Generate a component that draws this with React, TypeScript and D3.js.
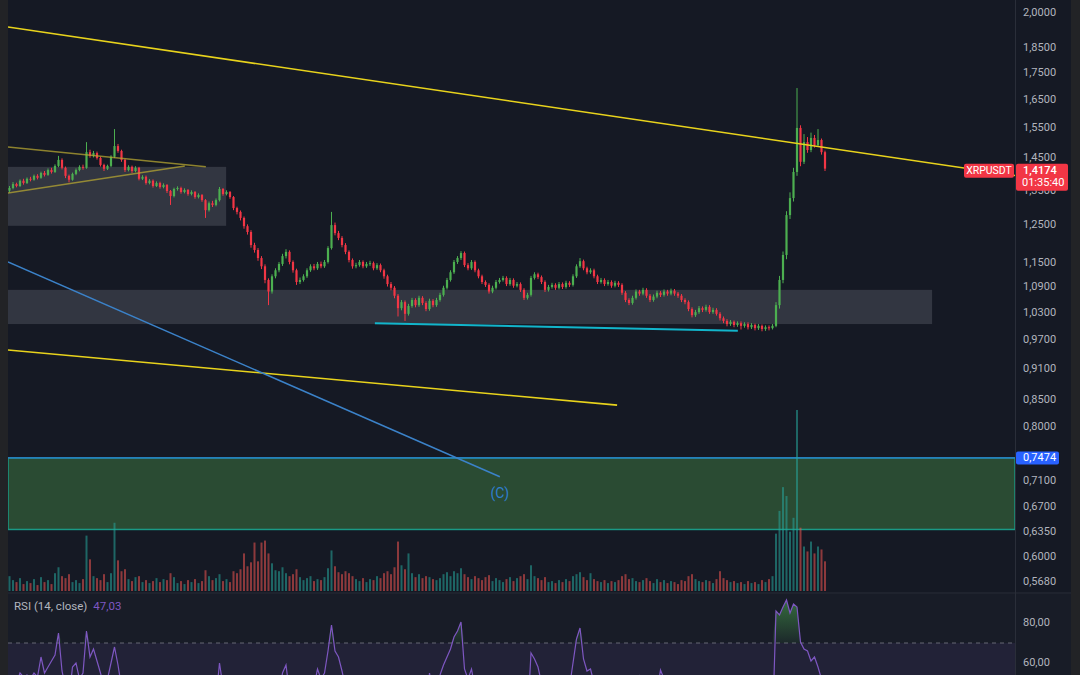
import React from "react";
import * as d3 from "d3";

// ---------- DATA ----------
const firstOpen = 1.35;
const closes = [
  1.358,1.370,1.364,1.380,1.373,1.386,1.383,1.395,1.389,1.404,
  1.398,1.413,1.407,1.426,1.445,1.420,1.395,1.383,1.401,1.413,
  1.423,1.420,1.470,1.458,1.467,1.451,1.429,1.417,1.426,1.455,
  1.490,1.474,1.445,1.413,1.423,1.410,1.420,1.386,1.392,1.373,
  1.380,1.364,1.373,1.361,1.367,1.349,1.334,1.355,1.358,1.346,
  1.352,1.340,1.346,1.331,1.337,1.322,1.293,1.313,1.308,1.322,
  1.355,1.340,1.346,1.331,1.299,1.288,1.271,1.248,1.232,1.197,
  1.184,1.163,1.142,1.108,1.080,1.117,1.132,1.148,1.168,1.179,
  1.153,1.132,1.103,1.108,1.117,1.132,1.142,1.137,1.148,1.142,
  1.153,1.189,1.251,1.229,1.216,1.197,1.179,1.158,1.142,1.145,
  1.153,1.142,1.148,1.150,1.137,1.145,1.132,1.117,1.098,1.089,
  1.070,1.041,1.055,1.028,1.046,1.060,1.048,1.065,1.053,1.039,
  1.058,1.048,1.060,1.072,1.089,1.108,1.127,1.153,1.163,1.176,
  1.145,1.137,1.153,1.132,1.117,1.103,1.096,1.080,1.089,1.103,
  1.108,1.113,1.098,1.108,1.094,1.098,1.084,1.065,1.072,1.113,
  1.122,1.115,1.103,1.084,1.091,1.096,1.089,1.098,1.091,1.101,
  1.096,1.117,1.142,1.155,1.137,1.127,1.132,1.117,1.103,1.108,
  1.098,1.103,1.094,1.101,1.096,1.077,1.060,1.053,1.065,1.080,
  1.075,1.084,1.070,1.060,1.068,1.077,1.072,1.080,1.075,1.082,
  1.075,1.070,1.060,1.055,1.039,1.025,1.032,1.041,1.037,1.044,
  1.032,1.037,1.028,1.018,1.012,1.005,1.010,1.003,1.007,1.001,
  1.005,0.998,1.003,0.996,1.001,0.994,0.998,0.996,1.001,1.048,
  1.108,1.171,1.279,1.328,1.407,1.551,1.439,1.503,1.477,1.517,
  1.493,1.510,1.470,1.4174,
];
const highs = [
  1.364,1.376,1.374,1.384,1.386,1.390,1.392,1.399,1.400,1.408,
  1.410,1.418,1.420,1.431,1.458,1.450,1.424,1.399,1.405,1.418,
  1.428,1.430,1.503,1.478,1.474,1.472,1.455,1.433,1.430,1.460,
  1.547,1.497,1.478,1.449,1.428,1.427,1.425,1.423,1.397,1.396,
  1.385,1.384,1.378,1.377,1.372,1.370,1.352,1.359,1.363,1.362,
  1.357,1.355,1.351,1.349,1.342,1.340,1.325,1.318,1.320,1.327,
  1.361,1.358,1.351,1.349,1.334,1.303,1.292,1.275,1.253,1.237,
  1.203,1.189,1.168,1.147,1.112,1.122,1.137,1.153,1.174,1.186,
  1.183,1.157,1.136,1.114,1.122,1.137,1.147,1.148,1.153,1.154,
  1.158,1.194,1.288,1.258,1.235,1.221,1.202,1.183,1.162,1.151,
  1.158,1.157,1.153,1.156,1.154,1.150,1.149,1.136,1.121,1.103,
  1.093,1.074,1.060,1.059,1.051,1.065,1.064,1.070,1.069,1.057,
  1.063,1.062,1.065,1.077,1.094,1.113,1.132,1.158,1.168,1.181,
  1.180,1.150,1.158,1.157,1.136,1.121,1.107,1.100,1.094,1.108,
  1.113,1.118,1.117,1.113,1.112,1.103,1.102,1.088,1.077,1.118,
  1.127,1.126,1.119,1.107,1.096,1.101,1.100,1.103,1.102,1.106,
  1.105,1.122,1.147,1.163,1.159,1.141,1.137,1.136,1.121,1.113,
  1.112,1.108,1.107,1.106,1.105,1.100,1.081,1.064,1.070,1.085,
  1.084,1.089,1.088,1.074,1.073,1.082,1.081,1.085,1.084,1.087,
  1.086,1.079,1.074,1.064,1.059,1.043,1.037,1.046,1.045,1.049,
  1.048,1.042,1.041,1.032,1.022,1.016,1.014,1.013,1.011,1.011,
  1.009,1.009,1.007,1.006,1.005,1.004,1.002,1.002,1.005,1.055,
  1.118,1.180,1.290,1.345,1.420,1.694,1.560,1.530,1.520,1.535,
  1.527,1.547,1.515,1.475,
];
const lows = [
  1.345,1.354,1.360,1.361,1.368,1.370,1.378,1.380,1.384,1.386,
  1.393,1.395,1.402,1.404,1.422,1.415,1.388,1.375,1.380,1.397,
  1.409,1.414,1.417,1.452,1.453,1.446,1.424,1.410,1.413,1.422,
  1.451,1.468,1.439,1.407,1.409,1.404,1.406,1.381,1.382,1.368,
  1.369,1.359,1.361,1.356,1.357,1.343,1.308,1.330,1.350,1.341,
  1.342,1.335,1.336,1.326,1.327,1.317,1.271,1.289,1.302,1.304,
  1.318,1.335,1.336,1.326,1.293,1.281,1.264,1.241,1.225,1.190,
  1.177,1.156,1.135,1.100,1.048,1.075,1.112,1.127,1.143,1.162,
  1.147,1.126,1.096,1.098,1.104,1.113,1.128,1.132,1.133,1.137,
  1.138,1.149,1.185,1.223,1.210,1.191,1.173,1.152,1.136,1.137,
  1.141,1.137,1.138,1.143,1.132,1.133,1.127,1.111,1.092,1.083,
  1.064,1.022,1.036,1.012,1.024,1.042,1.043,1.044,1.048,1.034,
  1.035,1.043,1.044,1.056,1.068,1.085,1.104,1.123,1.148,1.158,
  1.140,1.132,1.133,1.127,1.112,1.098,1.091,1.075,1.076,1.085,
  1.099,1.104,1.093,1.094,1.089,1.090,1.079,1.060,1.061,1.068,
  1.109,1.110,1.098,1.079,1.080,1.087,1.084,1.085,1.086,1.087,
  1.091,1.092,1.113,1.138,1.132,1.122,1.123,1.112,1.098,1.099,
  1.093,1.094,1.089,1.090,1.091,1.072,1.055,1.048,1.049,1.061,
  1.070,1.071,1.065,1.055,1.056,1.064,1.067,1.068,1.070,1.071,
  1.070,1.065,1.055,1.050,1.034,1.020,1.021,1.028,1.032,1.033,
  1.028,1.028,1.024,1.013,1.007,1.000,1.001,0.998,0.999,0.993,
  0.997,0.993,0.994,0.991,0.992,0.989,0.990,0.991,0.993,0.998,
  1.040,1.100,1.160,1.268,1.318,1.395,1.425,1.432,1.468,1.470,
  1.485,1.488,1.462,1.410,
];
const volumes = [
  30,22,18,26,14,20,16,24,12,28,
  18,22,14,36,48,30,26,34,18,22,
  16,24,112,64,30,26,22,34,18,36,
  138,62,40,44,24,20,28,30,18,22,
  16,20,26,18,24,22,36,28,16,20,
  14,22,18,24,16,20,42,30,22,26,
  34,20,24,18,40,36,44,76,50,58,
  98,60,98,102,76,56,42,40,48,36,
  30,34,44,28,22,26,30,20,24,22,
  28,46,82,50,38,34,40,36,30,24,
  20,26,18,24,22,30,26,36,40,34,
  48,100,52,44,76,36,28,34,26,30,
  28,24,22,26,34,38,30,40,36,46,
  34,28,24,30,26,22,28,32,20,26,
  22,18,24,28,20,26,30,34,24,52,
  30,26,22,28,18,20,16,22,18,24,
  20,30,34,38,28,22,36,24,20,18,
  22,16,20,18,22,30,34,24,26,20,
  18,22,26,20,16,24,18,22,16,20,
  18,14,22,20,30,34,24,20,18,22,
  20,16,24,40,26,22,18,20,16,18,
  14,20,16,18,14,22,18,24,30,116,
  162,210,192,120,148,366,128,90,80,100,
  76,90,84,60,
];
const rsiValues = [
  48,52,50,55,53,54,52,55,53,63,
  55,58,61,64,75,56,48,42,58,60,
  52,55,76,63,67,61,55,48,52,60,
  68,59,48,40,44,40,43,35,38,33,
  36,32,36,33,35,31,28,38,40,35,
  38,34,37,32,35,31,25,36,35,42,
  60,48,50,44,33,30,26,23,21,17,
  16,15,13,11,10,28,36,44,55,59,
  45,38,30,33,38,45,50,48,57,52,
  55,66,79,66,63,56,48,40,36,38,
  42,38,41,42,37,41,35,30,25,23,
  20,16,26,18,30,38,34,42,37,32,
  55,45,50,54,59,63,67,73,76,80.5,
  57,52,57,47,41,36,34,30,35,42,
  44,46,40,54,38,40,35,28,32,65,
  62,58,50,42,45,47,44,48,45,50,
  48,60,72,77.5,62,56,57,50,43,45,
  41,44,40,44,42,34,28,26,34,44,
  54,46,37,33,38,45,56.5,52,49,53,
  48,44,38,35,28,23,30,36,34,40,
  32,36,30,25,22,20,26,22,26,22,
  27,22,27,22,27,21,26,24,28,86,
  84,88,91.5,85,89.5,88,70.5,67,66,61,
  63,58,52,47.03,
];
const priceTicks = [2.0, 1.85, 1.75, 1.65, 1.55, 1.45, 1.35, 1.25, 1.15, 1.09, 1.03, 0.97, 0.91, 0.85, 0.8, 0.71, 0.67, 0.635, 0.6, 0.568];
const rsiTicks = [80, 60];
const symbol = "XRPUSDT";
const countdown = "01:35:40";
const rsiTitle = "RSI (14, close)";
const markedLevel = 0.7474;

// drawing tools, anchored in (bar index, price)
const trendTop: [number, number][] = [[-0.43, 1.939], [287.3, 1.396]];
const trendLow: [number, number][] = [[-0.43, 0.949], [173.6, 0.84]];
const waveLine: [number, number][] = [[-0.43, 1.153], [140.1, 0.717]];
const supportLine: [number, number][] = [[104.4, 1.007], [208.1, 0.99]];
const triUpper: [number, number][] = [[-0.43, 1.487], [56.1, 1.423]];
const triLower: [number, number][] = [[-0.43, 1.343], [50.1, 1.426]];
const grayZones = [
  { i0: -0.43, i1: 61.9, p0: 1.423, p1: 1.249 },
  { i0: -0.43, i1: 263.6, p0: 1.084, p1: 1.005 },
];
const demandZone = { i0: -0.43, i1: 287.3, p0: 0.7474, p1: 0.638 };
const waveLabel = { i: 140.1, p: 0.689, text: "(C)" };

const UP = "#4caf50";
const DOWN = "#f23645";
const FONT = "Roboto, 'Noto Sans', sans-serif";

export default function App() {
  const N = closes.length;
  const x = d3.scaleLinear().domain([0, N - 1]).range([9.5, 825]);
  const y = d3.scaleLog().domain([0.568, 2.0]).range([582, 13]);
  const yv = d3.scaleLinear().domain([0, 370]).range([591, 408]);
  const yr = d3.scaleLinear().domain([60, 80]).range([663, 623]);
  const fmt = (v: number, d: number) => v.toFixed(d).replace(".", ",");

  const line = d3.line<[number, number]>().x((d) => x(d[0])).y((d) => y(d[1]));
  const rsiLine = d3.line<number>().x((_, i) => x(i)).y((d) => yr(d));
  const obArea = d3
    .area<number>()
    .x((_, i) => x(i))
    .y0(yr(70))
    .y1((d) => yr(Math.max(d, 70)));

  const last = closes[N - 1];
  const ly = y(last);

  return (
    <svg width={1080} height={675} style={{ position: "fixed", left: 0, top: 0, display: "block" }} fontFamily={FONT}>
      <defs>
        <clipPath id="mainClip"><rect x={8} y={0} width={1007} height={592} /></clipPath>
        <clipPath id="rsiClip"><rect x={8} y={594} width={1007} height={81} /></clipPath>
        <linearGradient id="obGrad" x1="0" y1="0" x2="0" y2="1">
          <stop offset="0%" stopColor="#4caf50" stopOpacity={0.55} />
          <stop offset="100%" stopColor="#4caf50" stopOpacity={0.08} />
        </linearGradient>
      </defs>
      <rect x={0} y={0} width={1080} height={675} fill="#151924" />
      <rect x={8} y={594} width={1063} height={81} fill="#181c27" />
      {/* frame */}
      <rect x={0} y={0} width={8} height={675} fill="#222326" />
      <rect x={1071} y={0} width={9} height={675} fill="#222326" />
      <line x1={1015.5} x2={1015.5} y1={0} y2={675} stroke="#2a2e39" />
      <line x1={8} x2={1071} y1={593} y2={593} stroke="#2a2e39" />

      <g clipPath="url(#mainClip)">
        {grayZones.map((z, k) => (
          <rect key={k} x={x(z.i0)} width={x(z.i1) - x(z.i0)} y={y(z.p0)} height={y(z.p1) - y(z.p0)} fill="#787b86" fillOpacity={0.3} />
        ))}
        <rect x={x(demandZone.i0)} width={x(demandZone.i1) - x(demandZone.i0)} y={y(demandZone.p0)} height={y(demandZone.p1) - y(demandZone.p0)} fill="#2a4b33" stroke="#1a9a86" strokeWidth={1.5} />
        <line x1={x(demandZone.i0)} x2={x(demandZone.i1)} y1={y(markedLevel)} y2={y(markedLevel)} stroke="#2a7fd4" strokeWidth={1.2} />

        {/* volume */}
        {volumes.map((v, i) => {
          const o = i === 0 ? firstOpen : closes[i - 1];
          const up = closes[i] >= o;
          return (
            <rect key={i} x={x(i) - 1} width={2} y={yv(v)} height={yv(0) - yv(v)} fill={up ? "#26a69a" : "#ef5350"} fillOpacity={0.55} />
          );
        })}

        {/* candles */}
        {closes.map((c, i) => {
          const o = i === 0 ? firstOpen : closes[i - 1];
          const up = c >= o;
          const col = up ? UP : DOWN;
          const top = y(Math.max(o, c));
          const bot = y(Math.min(o, c));
          return (
            <g key={i}>
              <line x1={x(i)} x2={x(i)} y1={y(highs[i])} y2={y(lows[i])} stroke={col} strokeWidth={1} />
              <rect x={x(i) - 1.1} width={2.2} y={top} height={Math.max(1, bot - top)} fill={col} />
            </g>
          );
        })}

        {/* drawings */}
        <path d={line(triUpper)!} stroke="#b5a631" strokeOpacity={0.75} strokeWidth={1.5} fill="none" />
        <path d={line(triLower)!} stroke="#b5a631" strokeOpacity={0.75} strokeWidth={1.5} fill="none" />
        <path d={line(trendTop)!} stroke="#e8d31c" strokeWidth={1.6} fill="none" />
        <path d={line(trendLow)!} stroke="#e8d31c" strokeWidth={1.6} fill="none" />
        <path d={line(waveLine)!} stroke="#3b82c9" strokeWidth={1.5} fill="none" />
        <path d={line(supportLine)!} stroke="#12b5cb" strokeWidth={2} fill="none" />
        <text x={x(waveLabel.i)} y={y(waveLabel.p)} textAnchor="middle" dominantBaseline="middle" fill="#2f7fd0" fontSize={14}>{waveLabel.text}</text>
      </g>

      {/* RSI pane */}
      <g clipPath="url(#rsiClip)">
        <rect x={8} y={yr(70)} width={1007} height={675 - yr(70)} fill="#7e57c2" fillOpacity={0.1} />
        <line x1={8} x2={1015} y1={yr(70)} y2={yr(70)} stroke="#787b86" strokeDasharray="4 4" strokeOpacity={0.8} />
        <path d={obArea(rsiValues)!} fill="url(#obGrad)" />
        <path d={rsiLine(rsiValues)!} stroke="#7e57c2" strokeWidth={1.2} fill="none" />
      </g>
      <text x={14} y={610} fontSize={11.5} fill="#b2b5be">
        {rsiTitle}
        <tspan dx={6} fill="#7e57c2">{fmt(rsiValues[N - 1], 2)}</tspan>
      </text>

      {/* price axis */}
      {priceTicks.map((t) => (
        <text key={t} x={1023} y={y(t)} dominantBaseline="middle" fontSize={11} fill="#b2b5be">{fmt(t, 4)}</text>
      ))}
      {rsiTicks.map((t) => (
        <text key={t} x={1023} y={yr(t)} dominantBaseline="middle" fontSize={11} fill="#b2b5be">{fmt(t, 2)}</text>
      ))}

      {/* labels */}
      <rect x={964} y={ly - 5} width={50} height={14} rx={2} fill={DOWN} />
      <text x={989} y={ly + 2.5} textAnchor="middle" dominantBaseline="middle" fontSize={10.5} fill="#fff">{symbol}</text>
      <rect x={1016} y={ly - 5} width={52} height={27} rx={2} fill={DOWN} />
      <text x={1023} y={ly + 2} dominantBaseline="middle" fontSize={11} fontWeight={500} fill="#fff">{fmt(last, 4)}</text>
      <text x={1022} y={ly + 14} dominantBaseline="middle" fontSize={11} fill="#fff">{countdown}</text>
      <rect x={1016} y={y(markedLevel) - 6.5} width={43} height={13} rx={2} fill="#2962ff" />
      <text x={1023} y={y(markedLevel)} dominantBaseline="middle" fontSize={11} fill="#fff">{fmt(markedLevel, 4)}</text>
    </svg>
  );
}
